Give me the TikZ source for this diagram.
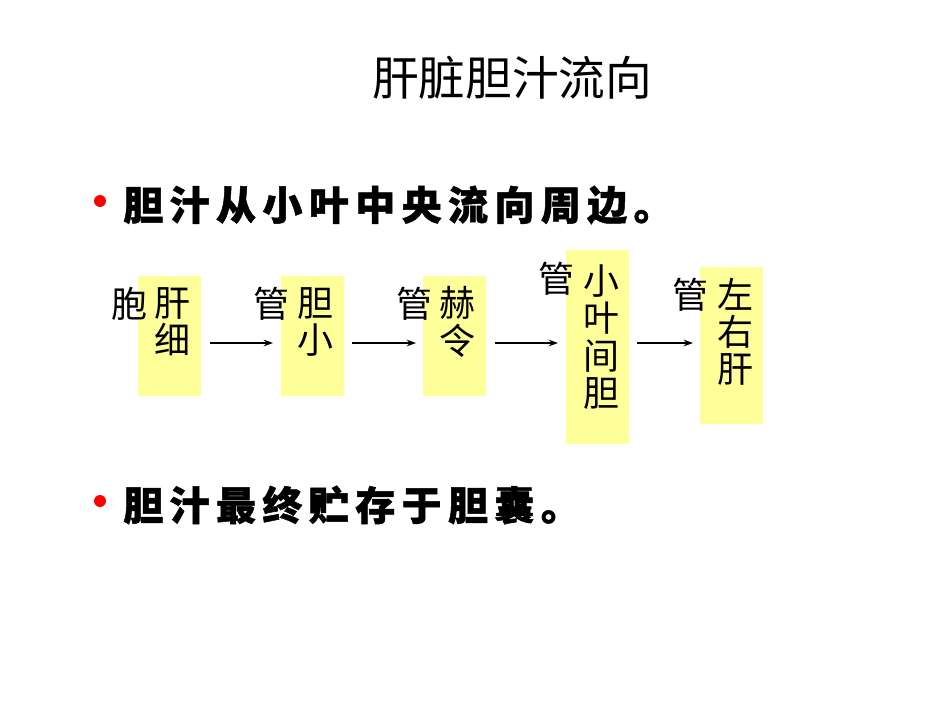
\documentclass[tikz,border=0pt]{standalone}
\usepackage{fontspec}
\usetikzlibrary{arrows.meta}
\newfontfamily\cjk{Noto Sans CJK SC}
\newfontfamily\cjksp[LetterSpace=16, BoldFeatures={FakeBold=1.2}]{Noto Sans CJK SC}
\definecolor{boxyellow}{HTML}{FFFF99}
\definecolor{dotred}{HTML}{FF0000}
\tikzset{
  ybox/.style={fill=boxyellow, draw=none},
  boxtext/.style={font=\cjk\fontsize{27}{28}\selectfont, align=center, inner sep=0pt},
  lbl/.style={font=\cjk\fontsize{27}{28}\selectfont, inner sep=0pt},
  flow/.style={-{Stealth[length=7pt,width=5pt]}, line width=1.5pt, black},
  bullettext/.style={font=\cjksp\bfseries\fontsize{30}{32}\selectfont, anchor=west, inner sep=0pt},
  bulletdot/.style={circle, fill=dotred, minimum size=9pt, inner sep=0pt}
}
\begin{document}
\begin{tikzpicture}[x=0.75pt,y=-0.75pt]
\useasboundingbox (0,0) rectangle (950,713);
\fill[white] (0,0) rectangle (950,713);
% title
\node[font=\cjk\fontsize{35}{38}\selectfont, inner sep=0pt] (title) at (512,78) {肝脏胆汁流向};
% bullet 1
\node[bulletdot] (d1) at (100,201) {};
\node[bullettext] (t1) at (123,205) {胆汁从小叶中央流向周边。};
% boxes
\fill[ybox] (138,276) rectangle (201,396);
\fill[ybox] (281,276) rectangle (344,396);
\fill[ybox] (423,276) rectangle (486,396);
\fill[ybox] (566,250) rectangle (629,444);
\fill[ybox] (700,267) rectangle (763,424);
% box texts
\node[boxtext] (bt1) at (172,322) {肝\\细};
\node[boxtext] (bt2) at (315,322) {胆\\小};
\node[boxtext] (bt3) at (457,322) {赫\\令};
\node[boxtext] (bt4) at (601,337) {小\\叶\\间\\胆};
\node[boxtext] (bt5) at (735,332) {左\\右\\肝};
% side labels
\node[lbl] (l1) at (129,304) {胞};
\node[lbl] (l2) at (271,304) {管};
\node[lbl] (l3) at (414,304) {管};
\node[lbl] (l4) at (556,279) {管};
\node[lbl] (l5) at (690,295) {管};
% arrows
\coordinate (a1s) at (210,343); \coordinate (a1e) at (273,343);
\coordinate (a2s) at (352,343); \coordinate (a2e) at (416,343);
\coordinate (a3s) at (495,343); \coordinate (a3e) at (558,343);
\coordinate (a4s) at (637,343); \coordinate (a4e) at (693,343);
\draw[flow] (a1s) -- (a1e);
\draw[flow] (a2s) -- (a2e);
\draw[flow] (a3s) -- (a3e);
\draw[flow] (a4s) -- (a4e);
% bullet 2
\node[bulletdot] (d2) at (100,501) {};
\node[bullettext] (t2) at (123,505) {胆汁最终贮存于胆囊。};
\end{tikzpicture}
\end{document}
